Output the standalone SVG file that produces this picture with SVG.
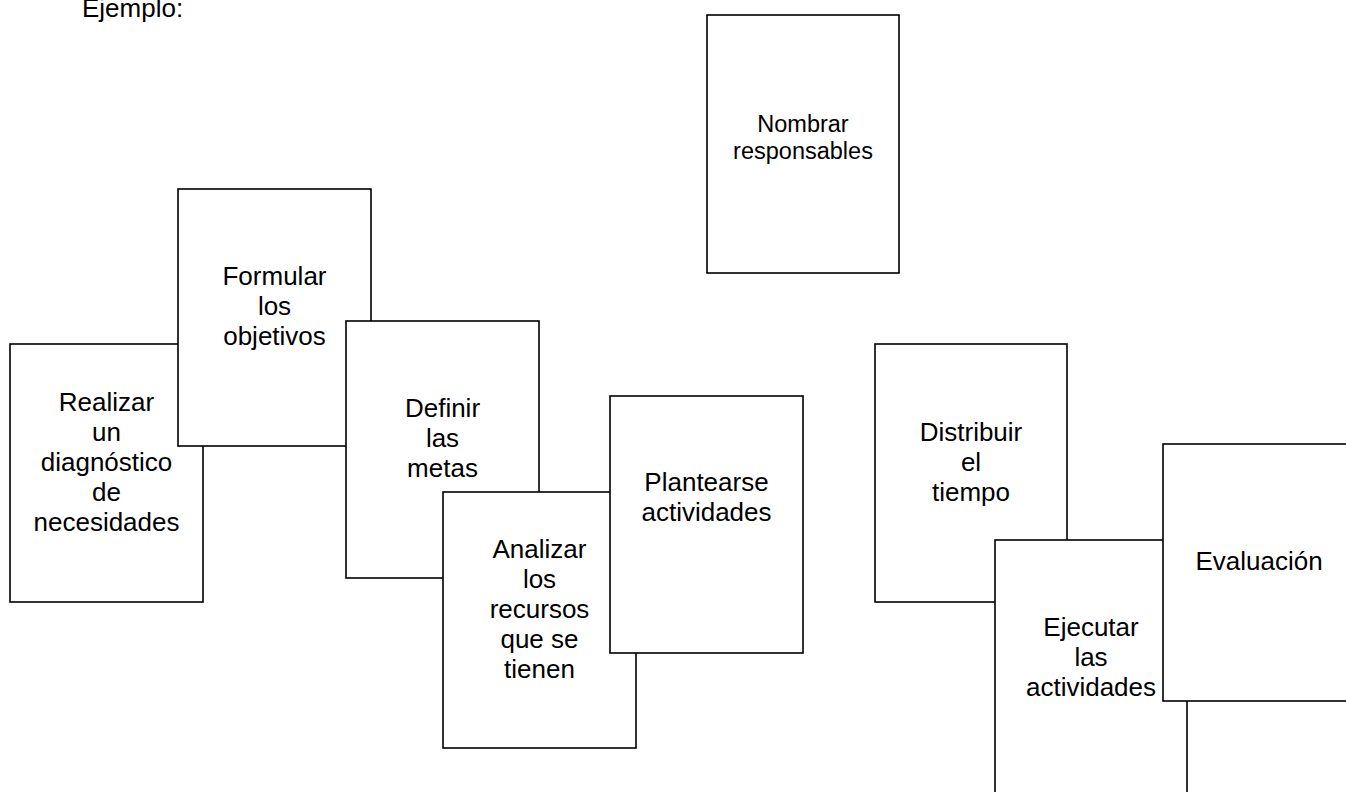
<svg xmlns="http://www.w3.org/2000/svg" width="1346" height="792" viewBox="0 0 1346 792">
<style>
.box{fill:#fff;stroke:#000;stroke-width:1.6}
.t{font-family:"Liberation Sans",Arial,sans-serif;font-size:26px;fill:#000;text-anchor:middle}
.s{font-size:23.5px}
</style>
<rect x="0" y="0" width="1346" height="792" fill="#fff"/>
<text x="82" y="17" font-family="Liberation Sans, Arial, sans-serif" font-size="26" fill="#000">Ejemplo:</text>
<g id="connectors"></g>
<g id="n_realizar">
<rect class="box" x="10" y="344" width="193" height="258"/>
<text class="t" x="106.5" y="411">Realizar</text>
<text class="t" x="106.5" y="441">un</text>
<text class="t" x="106.5" y="471">diagnóstico</text>
<text class="t" x="106.5" y="501">de</text>
<text class="t" x="106.5" y="531">necesidades</text>
</g>
<g id="n_formular">
<rect class="box" x="178" y="189" width="193" height="257"/>
<text class="t" x="274.5" y="285">Formular</text>
<text class="t" x="274.5" y="315">los</text>
<text class="t" x="274.5" y="345">objetivos</text>
</g>
<g id="n_definir">
<rect class="box" x="346" y="321" width="193" height="257"/>
<text class="t" x="442.5" y="417">Definir</text>
<text class="t" x="442.5" y="447">las</text>
<text class="t" x="442.5" y="477">metas</text>
</g>
<g id="n_analizar">
<rect class="box" x="443" y="492" width="193" height="256"/>
<text class="t" x="539.5" y="558">Analizar</text>
<text class="t" x="539.5" y="588">los</text>
<text class="t" x="539.5" y="618">recursos</text>
<text class="t" x="539.5" y="648">que se</text>
<text class="t" x="539.5" y="678">tienen</text>
</g>
<g id="n_plantearse">
<rect class="box" x="610" y="396" width="193" height="257"/>
<text class="t" x="706.5" y="491">Plantearse</text>
<text class="t" x="706.5" y="521">actividades</text>
</g>
<g id="n_nombrar">
<rect class="box" x="707" y="15" width="192" height="258"/>
<text class="t s" x="803" y="132">Nombrar</text>
<text class="t s" x="803" y="159">responsables</text>
</g>
<g id="n_distribuir">
<rect class="box" x="875" y="344" width="192" height="258"/>
<text class="t" x="971" y="441">Distribuir</text>
<text class="t" x="971" y="471">el</text>
<text class="t" x="971" y="501">tiempo</text>
</g>
<g id="n_ejecutar">
<rect class="box" x="995" y="540" width="192" height="258"/>
<text class="t" x="1091" y="636">Ejecutar</text>
<text class="t" x="1091" y="666">las</text>
<text class="t" x="1091" y="696">actividades</text>
</g>
<g id="n_evaluacion">
<rect class="box" x="1163" y="444" width="193" height="257"/>
<text class="t" x="1259" y="570">Evaluación</text>
</g>
</svg>
